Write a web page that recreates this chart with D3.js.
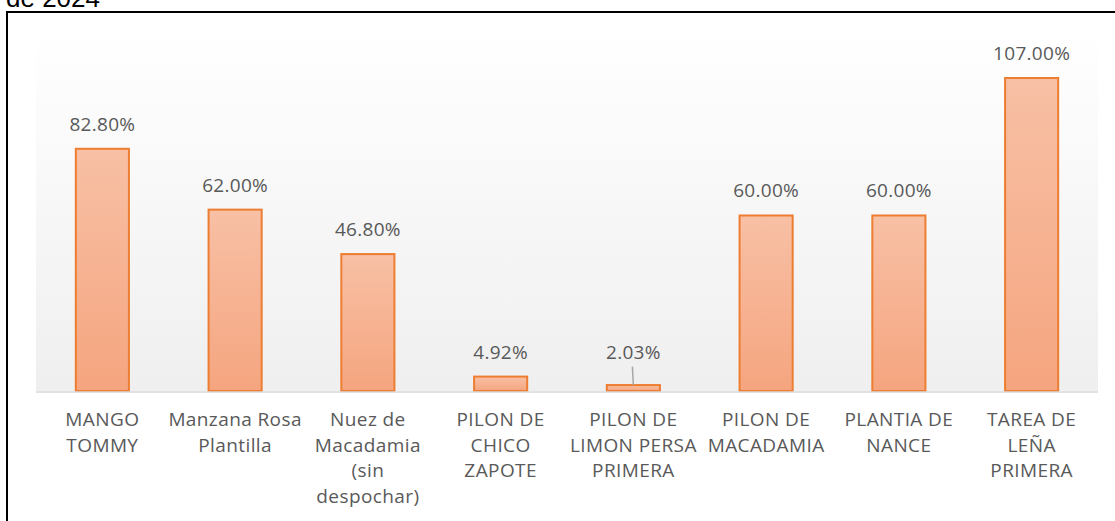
<!DOCTYPE html>
<html><head><meta charset="utf-8">
<script src="https://cdn.jsdelivr.net/npm/d3@7"></script>
<style>body{margin:0;background:#fff;overflow:hidden}svg{display:block}</style>
</head><body>
<script>
const categories = [
  ["MANGO","TOMMY"],
  ["Manzana Rosa","Plantilla"],
  ["Nuez de","Macadamia","(sin","despochar)"],
  ["PILON DE","CHICO","ZAPOTE"],
  ["PILON DE","LIMON PERSA","PRIMERA"],
  ["PILON DE","MACADAMIA"],
  ["PLANTIA DE","NANCE"],
  ["TAREA DE","LEÑA","PRIMERA"]
];
const values = [82.80, 62.00, 46.80, 4.92, 2.03, 60.00, 60.00, 107.00];
const valueLabels = ["82.80%","62.00%","46.80%","4.92%","2.03%","60.00%","60.00%","107.00%"];
const titleTail = "de 2024";

(function(){
const W = 1115, H = 521;
const svg = d3.select("body").append("svg").attr("width", W).attr("height", H);
const defs = svg.append("defs");
const bg = defs.append("linearGradient").attr("id","bg").attr("x1",0).attr("y1",0).attr("x2",0).attr("y2",1);
bg.append("stop").attr("offset","0%").attr("stop-color","#ffffff");
bg.append("stop").attr("offset","100%").attr("stop-color","#efefef");
const bar = defs.append("linearGradient").attr("id","bar").attr("x1",0).attr("y1",0).attr("x2",0).attr("y2",1);
bar.append("stop").attr("offset","0%").attr("stop-color","#f8c0a5");
bar.append("stop").attr("offset","100%").attr("stop-color","#f5a57f");

svg.append("text").attr("x", 6).attr("y", 7).attr("font-family","Liberation Sans, Arial, sans-serif")
  .attr("font-size", 26).attr("fill","#000").text(titleTail);
svg.append("rect").attr("x",7).attr("y",12).attr("width",1130).attr("height",540)
  .attr("fill","none").attr("stroke","#000").attr("stroke-width",2);

const pLeft = 36, pRight = 1098, pTop = 30, baseY = 391;
const x = d3.scaleBand().domain(d3.range(values.length)).range([pLeft, pRight]).paddingInner(0.6).paddingOuter(0.3);
const y = d3.scaleLinear().domain([0, 107]).range([baseY, 78]);

svg.append("rect").attr("x",pLeft).attr("y",pTop).attr("width",pRight-pLeft).attr("height",baseY-pTop).attr("fill","url(#bg)");

svg.selectAll("rect.bar").data(values).join("rect").attr("class","bar")
  .attr("x",(d,i)=>x(i)).attr("y",d=>y(d)).attr("width",x.bandwidth()).attr("height",d=>baseY-y(d))
  .attr("fill","url(#bar)").attr("stroke","#ed7d31").attr("stroke-width",2);

svg.append("line").attr("x1",pLeft).attr("x2",pRight).attr("y1",baseY+1).attr("y2",baseY+1)
  .attr("stroke","#d9d9d9").attr("stroke-width",1.5);

const font = "Open Sans, sans-serif";
const lblY = (d,i) => i===4 ? y(values[3]) - 18 : y(d) - 18;
svg.selectAll("text.val").data(values).join("text").attr("class","val")
  .attr("x",(d,i)=>x(i)+x.bandwidth()/2).attr("y",lblY)
  .attr("text-anchor","middle").attr("font-family",font).attr("font-size",19).attr("letter-spacing",0.3).attr("fill","#595959")
  .text((d,i)=>valueLabels[i]);
svg.append("line").attr("x1",x(4)+x.bandwidth()/2-1).attr("x2",x(4)+x.bandwidth()/2)
  .attr("y1",y(values[3])-10).attr("y2",y(values[4])).attr("stroke","#a6a6a6").attr("stroke-width",1.5);

const cat = svg.selectAll("text.cat").data(categories).join("text").attr("class","cat")
  .attr("text-anchor","middle").attr("font-family",font).attr("font-size",19).attr("letter-spacing",0.4).attr("fill","#595959");
cat.each(function(lines,i){
  const t = d3.select(this);
  lines.forEach((l,k)=>t.append("tspan").attr("x",x(i)+x.bandwidth()/2).attr("y",426+k*25.5).text(l));
});
})();
</script>
</body></html>
